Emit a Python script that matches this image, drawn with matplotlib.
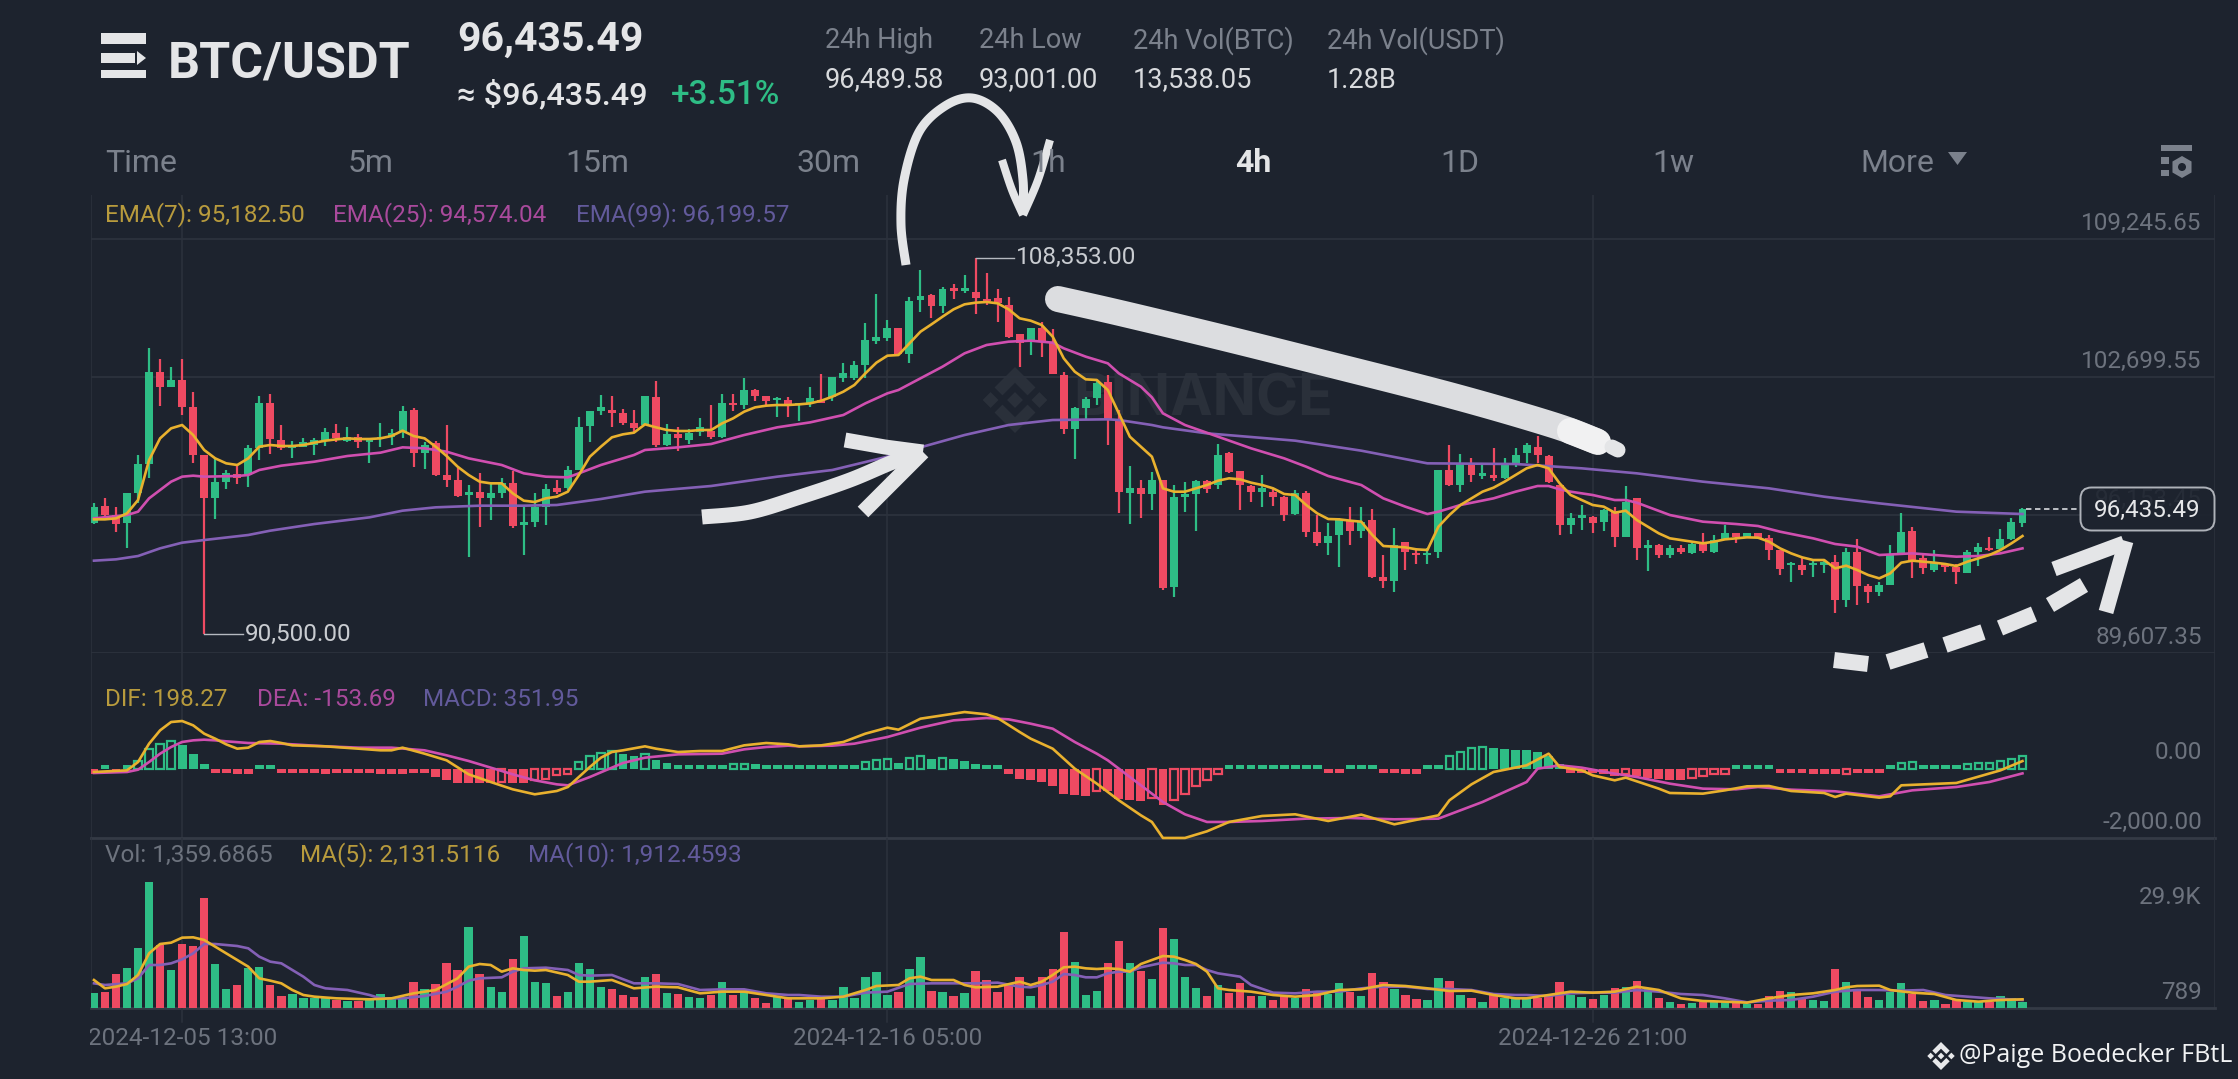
import numpy as np
import matplotlib
matplotlib.use("Agg")
import matplotlib.pyplot as plt
from matplotlib.patches import Polygon, Rectangle, FancyBboxPatch, RegularPolygon, Circle
from matplotlib.transforms import ScaledTranslation, Bbox

plt.rcParams['font.family'] = ['Roboto', 'DejaVu Sans']

# ---------- data ----------
open_ = [95763,96585,96158,95763,97215,98574,102947,102237,102553,101290,
99000,96950,97737,98100,98053,99316,101447,99710,99316,99395,
99474,99710,100058,99679,99868,99600,99742,99868,100105,101132,
99079,99553,98053,97816,97105,97263,96950,97215,97690,95684,
95842,96553,97421,97421,98290,100374,101100,101132,101005,100500,
100421,101763,99474,99979,99710,100105,100153,99837,101479,101369,
102079,101795,101605,101605,101369,101447,101605,101732,102632,102663,
103263,104416,104558,105000,103785,106342,106579,106058,106895,106784,
106737,106374,106421,106105,104732,104447,105000,104369,102790,100216,
101210,101684,102474,100658,97215,97421,97153,97816,92731,97026,
97153,97784,97579,99079,98258,97532,97263,97263,96995,96205,
97184,95368,94847,95210,95921,95416,95921,93237,93047,94895,
94374,94263,94421,98290,97579,98605,98005,98053,97895,98527,
99079,99395,98968,97579,95684,96000,96079,95842,96363,95100,
96950,94579,94737,94263,94579,94374,94816,94421,95006,95289,
95131,95289,95053,94500,93790,93790,93790,93790,93947,92132,
94421,92811,92495,92842,94263,95416,94105,93553,93837,93679,
93426,94421,94579,94532,95005,95795]
high = [96710,96950,96553,97215,99000,104053,103532,103153,103532,102000,
99000,98795,98290,98527,99474,101811,101890,100421,99679,99821,
99789,100263,100453,100311,99995,99789,100500,100216,101337,101210,
99632,99679,100421,98369,97579,98132,97658,97895,98258,96521,
97184,97627,97816,98479,100784,101100,101842,101811,101163,101132,
101795,102521,100453,100342,100216,100768,101369,101890,101890,102632,
102142,101795,101732,101732,101447,102205,102837,102679,103342,103453,
105237,106627,105395,105000,106469,107763,106627,106974,107100,107526,
108353,107605,106879,106500,104732,105000,105316,104953,102947,101290,
101763,102521,102790,101132,98479,97816,98211,97816,97579,97737,
97816,97816,99521,99158,98258,97579,98053,97421,97058,97342,
97310,96158,95795,95999,96521,96553,96426,94263,95526,94895,
94579,94579,98290,99474,99047,98874,98605,99316,98842,99316,
99553,99900,99000,97579,96268,96632,96110,96426,96553,97532,
96950,94974,94784,94737,94737,94816,95321,95211,95684,95321,
95321,95321,95211,94500,93947,94184,93995,94058,94263,94579,
95021,92889,92995,94737,96237,95574,94263,94500,93868,93837,
94500,94816,95131,95479,95999,96473]
low = [95715,96000,95337,94579,96710,97895,101321,102237,100895,98605,
90500,95968,97374,97627,97500,98763,99047,99237,98842,99363,
99000,99426,99632,99632,99316,98637,99363,99474,99789,98416,
98321,98005,97500,96995,94184,95574,95921,96950,95526,94263,
95605,95684,97153,97342,98290,99600,100895,100311,100421,100105,
100421,99363,99426,99205,99521,99900,99742,99789,101100,101163,
101574,101369,100816,100816,100626,101258,101447,101574,102474,102553,
102632,104242,104416,103737,103342,105790,105474,105742,106374,106658,
105679,106105,105316,104526,103153,103737,103658,102821,99979,98795,
100690,101369,99474,96237,95715,96000,96395,92605,92258,96316,
95416,97215,97374,98163,96395,96790,96553,96585,95890,96158,
95131,94690,94263,93710,94737,95053,93158,92684,92526,93553,
93837,93837,94105,97547,97263,97737,97847,97784,97847,98447,
98605,98605,97658,95210,95258,95447,95321,95416,94626,95100,
94026,93505,94105,94137,94295,94310,94374,94374,94974,94816,
95053,95006,94026,93316,93000,93316,93237,93426,91500,91816,
91895,92005,92321,92842,94263,93158,93363,93474,93474,92889,
93395,93742,94468,94468,94974,95605]
close = [96553,96158,95730,97215,98574,102947,102237,102553,101290,99000,
96950,97737,98132,97895,99316,101447,99742,99316,99474,99632,
99710,100074,99789,99868,99632,99710,99837,100058,101085,99079,
99474,98053,97816,97058,97263,96950,97184,97658,95637,95842,
96553,97374,97263,98290,100342,101100,101258,101005,100532,100263,
101795,99474,99979,99789,100058,100311,99837,101447,101369,102079,
101795,101574,101684,101369,101447,101684,101447,102679,102868,103263,
104447,104574,105000,103785,106311,106532,106058,106848,106784,106895,
106421,106311,106185,104605,104290,105000,104369,102821,100216,101210,
101653,102395,100658,97263,97421,97153,97816,92684,96995,97153,
97784,97374,99000,98211,97579,97263,97421,96995,96158,97184,
95368,94816,95163,95921,95416,95842,93237,93047,94737,94421,
94263,94374,98290,97579,98605,98053,98132,97895,98527,99000,
99474,99000,97737,95684,96000,96158,95795,96395,95131,96790,
94579,94737,94263,94579,94389,94784,94453,94974,95289,95131,
95289,95053,94500,93584,93868,93553,93868,93916,92132,94421,
92811,92495,92842,94263,95368,94026,93632,93868,93710,93474,
94421,94658,94500,95005,95842,96435.49]
ema7 = [95952,95952,95999,96237,96868,98763,99789,100263,100421,99947,99237,98842,98605,98527,98842,99395,99474,99426,99426,99474,
99584,99679,99742,99789,99758,99758,99789,99900,100153,99900,99789,99395,98953,98447,98053,97737,97658,97658,97184,96837,
96774,96947,97026,97263,98053,98921,99395,99837,99979,100058,100453,100311,100184,100137,100137,100184,100184,100500,100737,101053,
101258,101337,101369,101369,101400,101447,101574,101763,102000,102316,102868,103374,103705,103737,104290,104842,105190,105553,105900,106137,
106216,106248,106185,105900,105474,105363,105158,104605,103579,102947,102584,102553,102079,100974,99868,99395,98921,97421,97263,97263,
97421,97579,97784,97895,97847,97690,97579,97421,97153,97105,96632,96237,95968,95952,95889,95842,95211,94690,94658,94626,
94531,94500,95605,96158,96632,96947,97263,97453,97737,98053,98369,98527,98369,97658,97105,96868,96632,96553,96268,96363,
95921,95605,95289,95053,94974,94895,94816,94895,95005,95053,95100,95084,94895,94579,94342,94153,94026,94026,93631,93758,
93553,93316,93158,93395,93900,93995,93947,93900,93837,93742,93947,94105,94263,94500,94816,95163]
ema25_idx = [0,3,4,5,6,7,8,9,10,13,14,15,17,20,23,26,28,30,32,34,37,39,41,43,44,46,49,50,53,56,59,62,65,68,70,72,73,75,77,79,81,83,85,87,88,90,92,93,95,96,97,99,102,105,108,110,112,115,117,119,121,122,124,127,129,131,132,133,134,136,138,139,140,143,146,149,151,153,156,158,160,162,165,167,169,171,173,175]
ema25 = [96000,96158,96316,96947,97342,97737,97974,98021,97974,98005,98053,98290,98495,98684,98953,99111,99363,99316,99158,98842,98527,98132,97974,97942,98132,98527,99000,99237,99363,99521,99947,100311,100547,100895,101447,101921,102079,102632,103184,103816,104211,104369,104416,104321,104053,103658,103342,102868,102237,101732,100974,100421,99868,99316,98842,98447,98005,97579,96947,96553,96205,96316,96632,96947,97263,97532,97532,97374,97263,97105,96868,96868,96742,96158,95842,95731,95637,95368,95053,94784,94658,94263,94342,94263,94184,94216,94342,94579]
ema99_idx = [0,2,4,6,8,10,14,16,20,25,28,31,35,39,42,46,50,56,62,67,72,75,79,83,87,92,93,96,97,101,109,115,121,129,135,140,146,152,157,162,169,175]
ema99 = [93995,94058,94215,94579,94847,94973,95211,95416,95731,96047,96363,96521,96600,96600,96632,96916,97263,97532,97974,98290,98921,99363,99947,100421,100658,100690,100658,100421,100311,100026,99679,99205,98605,98574,98369,98132,97737,97421,97026,96710,96316,96205]

hist = [-160,76,-40,76,200,533,676,762,648,410,105,-65,-65,-180,-180,76,30,-65,-65,-65,
-65,-160,-65,-65,-65,-65,-160,-160,-160,-65,-65,-257,-333,-430,-430,-430,-430,-400,-430,-430,
-352,-305,-210,-160,170,343,438,476,410,343,390,219,152,57,48,48,48,76,105,124,
124,76,48,48,48,48,48,76,76,95,171,219,257,143,295,333,267,295,248,190,
114,48,38,-181,-305,-352,-400,-524,-752,-781,-809,-657,-657,-876,-923,-942,-857,-1066,-905,-733,
-524,-352,-181,76,76,76,76,76,76,48,76,30,-86,-86,76,76,76,-86,-143,-162,
-162,76,76,333,457,581,600,562,543,524,524,457,333,124,-114,-114,-133,-181,-238,-181,
-238,-276,-305,-333,-333,-276,-228,-181,-162,76,76,76,30,-86,-86,-86,-162,-162,-181,-162,
-86,-95,-143,76,152,162,95,95,86,48,124,133,143,200,257,351.95]
dif_idx = [0,3,4,5,6,7,8,9,10,11,12,13,14,15,16,17,18,21,24,26,27,28,30,32,34,36,38,40,42,43,45,46,47,48,50,51,53,55,57,59,61,63,64,66,68,70,72,73,75,77,79,81,82,84,85,87,89,91,93,95,96,97,99,101,103,106,109,112,115,118,122,123,125,127,130,132,133,135,136,138,139,142,143,146,148,150,152,154,157,158,159,162,163,164,169,173,175]
dif = [-114,-67,171,695,1076,1314,1342,1219,981,838,676,552,581,743,771,714,647,619,552,505,505,581,409,219,-181,-400,-609,-752,-657,-543,29,295,457,505,619,552,457,486,486,647,714,676,619,647,743,981,1152,1095,1409,1504,1599,1533,1428,1028,838,552,-19,-447,-923,-1352,-1542,-1999,-1999,-1809,-1542,-1371,-1323,-1514,-1333,-1609,-1352,-923,-467,-114,76,409,29,-67,-209,-352,-276,-590,-714,-733,-638,-524,-514,-657,-714,-828,-733,-847,-809,-495,-428,-67,198.27]
dea_idx = [0,3,4,5,6,7,8,9,10,11,12,14,17,21,24,27,30,32,34,36,38,40,42,43,45,47,48,50,53,57,59,61,63,64,67,69,72,75,78,81,83,85,87,89,91,92,93,95,97,99,101,103,106,110,114,118,122,124,126,128,130,131,133,135,138,140,143,146,149,151,154,158,162,165,169,172,175]
dea = [-143,-114,-48,171,409,600,743,790,809,790,762,714,695,619,581,581,505,362,200,10,-181,-352,-467,-495,-257,10,143,295,390,409,533,600,638,619,638,695,885,1152,1361,1428,1390,1266,1123,743,409,219,-19,-495,-971,-1323,-1542,-1542,-1514,-1447,-1428,-1466,-1447,-1209,-971,-685,-400,-19,76,10,-162,-257,-447,-590,-609,-543,-619,-666,-809,-638,-543,-400,-153.69]

volume = [5481,5787,11193,12927,19047,39243,20067,12417,20373,19761,34347,14253,6603,7827,12927,13233,7827,4461,4971,3747,
3849,3747,3237,3033,2931,3747,5073,4053,3747,8643,6603,8133,14457,12417,25473,11193,7113,5787,15783,22923,
8847,8541,4563,5787,14457,12621,7317,6603,4767,4257,10377,11091,5481,5073,4257,3747,4767,8643,4767,5787,
3747,2421,4257,3747,2727,3237,3747,3237,7113,3747,10173,11907,4767,5787,12621,16293,6093,5787,4461,5481,
12213,9357,5787,7827,10173,4461,10173,12621,23943,14967,4767,6093,14457,21189,14457,12111,9663,25269,21801,10173,
6909,4461,7827,5277,8337,4563,4461,3237,4461,3747,6501,5277,5073,8541,5787,4563,11397,8847,6603,4767,
3441,3237,9867,9153,4767,3747,2523,4767,3747,3747,3747,3747,4461,8643,4767,4257,3543,4767,6807,7113,
9153,6501,3747,2523,2013,2217,2727,2523,2523,2421,1911,1911,4461,5991,5787,3747,3237,2931,12723,8643,
6093,4257,3237,5787,8337,5073,3033,3237,2013,3237,2727,2727,2727,4563,3747,2523]
ma5_idx = [0,1,2,3,4,5,6,7,8,9,10,11,12,13,14,15,16,17,18,19,20,22,25,27,29,31,33,34,35,36,37,38,39,40,41,43,44,45,47,49,51,53,55,57,59,61,63,64,66,68,70,71,73,74,75,76,78,79,80,82,84,85,86,87,88,89,90,91,92,93,94,95,96,97,98,99,100,101,102,103,105,107,109,111,113,115,117,119,121,123,125,127,129,130,132,134,136,138,140,142,144,146,148,150,152,154,156,158,159,160,162,163,165,167,169,171,173,175]
ma5 = [9357,6807,7317,8133,10887,17517,20373,20781,22311,22413,21597,19557,17517,15477,13437,9867,9153,8337,6297,4767,4257,3747,3441,3747,5277,6297,9867,13437,14253,13947,11907,12927,12417,12213,12417,10887,8847,8847,9357,6807,7317,7113,5277,5787,5787,4767,3747,3747,3747,4257,6297,7521,7827,9867,10377,9357,9357,7827,7113,7317,8847,7827,8847,10887,13233,13437,12927,12723,12927,12723,11907,14253,15477,16701,16497,15477,14253,11907,6807,6297,5787,4767,4257,4767,6297,6501,7827,7521,6807,5991,6093,4767,3747,3747,4767,5787,5481,5787,7317,6297,3747,2931,2727,2421,3747,4767,5277,6297,7113,7521,7623,6297,5481,5073,3237,2727,3237,3441]
ma10_idx = [0,1,3,4,5,6,7,8,9,10,11,13,14,15,16,17,18,19,20,21,23,25,26,28,30,32,33,34,35,37,38,39,41,43,44,45,47,49,51,53,55,57,59,61,63,64,66,68,70,72,74,76,78,80,82,84,85,86,87,88,89,90,91,92,93,94,95,96,97,98,99,100,101,102,103,104,105,107,109,111,113,115,117,119,121,123,125,127,129,130,132,134,136,138,140,142,144,146,148,150,152,154,156,158,160,162,164,166,168,170,172,175]
ma10 = [8337,7827,8337,9867,13947,13947,14457,15681,17517,20373,20373,19761,19047,16497,14967,14457,12417,10377,7827,6807,6297,4767,3747,3747,4461,5787,7317,9153,9867,10173,11907,12927,13131,12417,10887,10683,10887,8337,8337,8133,6297,6501,6501,5277,4767,4767,4257,4257,5481,5787,8133,8337,8337,8337,8541,7317,7113,7827,8847,11193,10887,10173,10173,11397,11907,11907,13233,13947,14661,14457,13947,13947,12417,11397,10887,10377,7827,5481,5277,5787,5787,6807,7317,7317,6603,6603,6297,5073,4767,4767,4461,5277,5481,5481,6297,5787,5073,4767,3747,2523,3033,3237,4257,5787,6297,6297,6093,6297,4767,4257,3747,3237]

price_ticks = [109245.65, 102699.55, 96153.45, 89607.35]
price_tick_labels = ['109,245.65', '102,699.55', '96,153.45', '89,607.35']
macd_ticks = [0, -2000]
macd_tick_labels = ['0.00', '-2,000.00']
vol_ticks = [29900, 789]
vol_tick_labels = ['29.9K', '789']
grid_idx = [8, 72, 136]
date_labels = ['2024-12-05 13:00', '2024-12-16 05:00', '2024-12-26 21:00']
tabs = ['Time', '5m', '15m', '30m', '1h', '4h', '1D', '1w', 'More']

# ---------- styles ----------
W, H = 2238, 1079
BG = '#1d232e'
GRID = '#2c323d'
SEP = '#343a45'
GREEN = '#2ebd85'
RED = '#ee4a62'
YEL = '#e9b12e'
MAG = '#d04fb0'
PUR = '#8460b6'
AXTXT = '#6d737e'
TABTXT = '#7b818c'
INK = '#e4e5e7'
XMIN, XMAX = -0.27, 192.47
FS = 17.5

fig = plt.figure(figsize=(W / 100, H / 100), dpi=100, facecolor=BG)

def axpx(x0, y0, x1, y1, z):
    a = fig.add_axes([x0 / W, 1 - y1 / H, (x1 - x0) / W, (y1 - y0) / H], zorder=z)
    a.patch.set_alpha(0)
    return a

back = axpx(0, 0, W, H, 0)
front = axpx(0, 0, W, H, 5)
for a in (back, front):
    a.set_xlim(0, W); a.set_ylim(H, 0); a.axis('off')

ax_p = axpx(91, 195, 2215, 653.3, 1)
ax_m = axpx(91, 653.3, 2215, 838, 1)
ax_v = axpx(91, 838, 2215, 1008, 1)
ax_p.set_ylim(89607.35, 111316)
ax_m.set_ylim(-2000, 3277)
ax_v.set_ylim(789, 52809)

for a in (ax_p, ax_m, ax_v):
    a.set_xlim(XMIN, XMAX)
    for s in a.spines.values():
        s.set_visible(False)
    a.set_axisbelow(True)
    for gx in grid_idx + [XMIN, XMAX]:
        a.axvline(gx, color=GRID, lw=1.1, zorder=0)
    a.yaxis.tick_right()
    a.tick_params(axis='y', length=0, pad=-9.5, labelcolor=AXTXT, labelsize=FS)
    a.tick_params(axis='x', length=0)
    a.set_xticks([])

def set_yticks(a, ticks, labels):
    a.set_yticks(ticks, labels=labels)
    for lab in a.get_yticklabels():
        lab.set_ha('right')
        lab.set_va('bottom')
        lab.set_transform(lab.get_transform() + ScaledTranslation(0, 2.8 / 72, fig.dpi_scale_trans))

set_yticks(ax_p, price_ticks, price_tick_labels)
set_yticks(ax_m, macd_ticks, macd_tick_labels)
set_yticks(ax_v, vol_ticks, vol_tick_labels)
for v in price_ticks:
    ax_p.axhline(v, color=GRID, lw=1.3, zorder=0)
ax_m.axhline(-2000, color=SEP, lw=2, zorder=0, clip_on=False)
ax_v.axhline(789, color=SEP, lw=2, zorder=0, clip_on=False)

ax_v.set_xticks(grid_idx, labels=date_labels)
ax_v.tick_params(axis='x', pad=14, labelcolor=AXTXT, labelsize=FS)
ax_v.get_xticklabels()[0].set_clip_on(True)
ax_v.get_xticklabels()[0].set_clip_box(Bbox([[90, 0], [400, 200]]))
for gx in grid_idx:
    ax_v.plot([gx, gx], [0, -0.08], color=GRID, lw=1.1, transform=ax_v.get_xaxis_transform(), clip_on=False)

# ---------- candles ----------
idx = np.arange(len(close))
o, h, l, c = map(np.array, (open_, high, low, close))
up = c >= o
cols = np.where(up, GREEN, RED)
ax_p.vlines(idx, l, h, colors=cols, lw=1.6, zorder=2)
ax_p.bar(idx, np.maximum(np.abs(c - o), 60), bottom=np.minimum(o, c), width=0.72, color=cols, zorder=2, linewidth=0)
ax_p.plot(ema99_idx, ema99, color=PUR, lw=1.9, zorder=3)
ax_p.plot(ema25_idx, ema25, color=MAG, lw=1.9, zorder=4)
ax_p.plot(idx, ema7, color=YEL, lw=1.9, zorder=5)

# high / low markers
ax_p.plot([80, 83.5], [108353, 108353], color='#b5b9c0', lw=1, zorder=6)
ax_p.text(83.7, 108353, '108,353.00', color='#c9ccd1', fontsize=FS, va='center', ha='left')
ax_p.plot([10, 13.5], [90500, 90500], color='#b5b9c0', lw=1, zorder=6)
ax_p.text(13.7, 90500, '90,500.00', color='#c9ccd1', fontsize=FS, va='center', ha='left')

# last price
ax_p.plot([175.3, 180], [96435.49, 96435.49], color='#c9ccd1', lw=1.3, ls=(0, (3, 2)), zorder=6)

# ---------- MACD ----------
ZERO = -38
MINH = 115
hist_a = np.array(hist, dtype=float)
rising = np.r_[False, hist_a[1:] > hist_a[:-1]]
hcols = np.where(hist_a >= 0, GREEN, RED)
for i, v in enumerate(hist_a):
    height = max(v - ZERO, MINH) if v >= 0 else min(v - ZERO, -MINH)
    if rising[i] and abs(v) > 100:
        ax_m.bar(i, height, bottom=ZERO, width=0.66, facecolor='none', edgecolor=hcols[i], linewidth=1.6, zorder=2)
    else:
        ax_m.bar(i, height, bottom=ZERO, width=0.8, color=hcols[i], linewidth=0, zorder=2)
ax_m.plot(dea_idx, dea, color=MAG, lw=1.9, zorder=3, clip_on=False)
ax_m.plot(dif_idx, dif, color=YEL, lw=1.9, zorder=4, clip_on=False)

# ---------- volume ----------
ax_v.bar(idx, np.array(volume) - 789, bottom=789, width=0.76, color=cols, linewidth=0, zorder=2)
ax_v.plot(ma10_idx, ma10, color=PUR, lw=1.9, zorder=3)
ax_v.plot(ma5_idx, ma5, color=YEL, lw=1.9, zorder=4)

# ---------- text / chrome ----------
def t(x, y, s, col, size, weight='normal', ha='left', ax=front, **kw):
    return ax.text(x, y + 3, s, color=col, fontsize=size, fontweight=weight, ha=ha, va='center', **kw)

def rect(x0, y0, x1, y1, col, ax=front):
    ax.add_patch(Rectangle((x0, y0), x1 - x0, y1 - y0, facecolor=col, edgecolor='none'))

# header icon
rect(101, 33, 146, 44, INK)
rect(101, 53, 135, 63, INK)
front.add_patch(Polygon([[137, 51], [146, 58], [137, 65]], facecolor=INK))
rect(101, 70, 146, 78, INK)
t(168, 60.5, 'BTC/USDT', INK, 36.2, 'bold')
t(457, 37, '96,435.49', INK, 29.5, 'bold')
t(457, 92, '≈ $96,435.49', INK, 23.4, 'medium')
t(671, 92, '+3.51%', GREEN, 24, 'medium')
cols_x = [825, 979, 1133, 1327]
stat_names = ['24h High', '24h Low', '24h Vol(BTC)', '24h Vol(USDT)']
stat_vals = ['96,489.58', '93,001.00', '13,538.05', '1.28B']
for xx, nm, vv in zip(cols_x, stat_names, stat_vals):
    t(xx, 38, nm, TABTXT, 19.5)
    t(xx, 77, vv, '#d8dadd', 19.5)

tab_x = [105, 348, 565, 797, 1030, 1235, 1440, 1652, 1860]
for xx, s in zip(tab_x, tabs):
    if s == '4h':
        t(xx, 160.5, s, INK, 23, 'bold')
    else:
        t(xx, 160.5, s, TABTXT, 23)
front.add_patch(Polygon([[1948, 152], [1967, 152], [1957.5, 165]], facecolor=TABTXT))

# settings icon
rect(2161, 145, 2192, 151, TABTXT)
rect(2161, 157, 2169, 164, TABTXT)
rect(2161, 170, 2169, 176, TABTXT)
front.add_patch(RegularPolygon((2182, 167), 6, radius=11, facecolor=TABTXT, edgecolor='none'))
front.add_patch(Circle((2182, 167), 4, facecolor=BG, edgecolor='none'))

# legends
t(105, 212, 'EMA(7): 95,182.50', '#b89b3d', FS)
t(333, 212, 'EMA(25): 94,574.04', '#a94a9c', FS)
t(576, 212, 'EMA(99): 96,199.57', '#625a9b', FS)
t(105, 696, 'DIF: 198.27', '#b89b3d', FS)
t(257, 696, 'DEA: -153.69', '#a94a9c', FS)
t(423, 696, 'MACD: 351.95', '#625a9b', FS)
t(105, 852, 'Vol: 1,359.6865', '#6d737e', FS)
t(300, 852, 'MA(5): 2,131.5116', '#b89b3d', FS)
t(528, 852, 'MA(10): 1,912.4593', '#625a9b', FS)

# watermark
def logo(ax, cx, cy, r, col):
    def diamond(x, y, s):
        ax.add_patch(Polygon([[x, y - s], [x + s, y], [x, y + s], [x - s, y]], facecolor=col, edgecolor='none'))
    diamond(cx, cy, 0.24 * r)
    diamond(cx - 0.74 * r, cy, 0.24 * r)
    diamond(cx + 0.74 * r, cy, 0.24 * r)
    for sgn in (-1, 1):
        ax.add_patch(Polygon([[cx, cy + sgn * r], [cx + 0.62 * r, cy + sgn * 0.38 * r], [cx + 0.38 * r, cy + sgn * 0.14 * r],
                              [cx, cy + sgn * 0.52 * r], [cx - 0.38 * r, cy + sgn * 0.14 * r], [cx - 0.62 * r, cy + sgn * 0.38 * r]],
                             facecolor=col, edgecolor='none'))
WM = '#2a303a'
logo(back, 1015, 400, 33, WM)
back.text(1073, 401, 'BINANCE', color=WM, fontsize=41, fontweight='bold', family='Inter', va='center', ha='left')

# footer
logo(front, 1941, 1056, 14, '#e8e9eb')
front.text(1959, 1055, '@Paige Boedecker FBtL', color='#f2f3f4', fontsize=18, family='Open Sans', va='center', ha='left')

# price tag
front.add_patch(FancyBboxPatch((2087, 494), 121, 30, boxstyle='round,pad=6.5,rounding_size=11', facecolor=(0.114, 0.137, 0.18, 0.88),
                               edgecolor='#aeb2b9', linewidth=1.4))
t(2147, 507, '96,435.49', '#e6e7e9', 17.5, ha='center')

# ---------- handwritten strokes ----------
def smooth(pts, n=14):
    p = np.array(pts, float)
    p = np.vstack([p[0], p, p[-1]])
    out = []
    for i in range(1, len(p) - 2):
        for u in np.linspace(0, 1, n, endpoint=False):
            out.append(0.5 * ((2 * p[i]) + (-p[i - 1] + p[i + 1]) * u +
                              (2 * p[i - 1] - 5 * p[i] + 4 * p[i + 1] - p[i + 2]) * u ** 2 +
                              (-p[i - 1] + 3 * p[i] - 3 * p[i + 1] + p[i + 2]) * u ** 3))
    out.append(p[-2])
    return np.array(out)

def stroke(pts, px, col=INK, cap='butt', curve=True):
    q = smooth(pts) if curve else np.array(pts, float)
    front.plot(q[:, 0], q[:, 1], color=col, lw=px * 0.72, solid_capstyle=cap, solid_joinstyle='round')

# curved arrow on top
stroke([(906, 265), (901, 225), (904, 180), (919, 132), (945, 106), (972, 98), (998, 112), (1016, 142), (1023, 180), (1023, 214)], 9)
stroke([(1002, 160), (1012, 190), (1023, 215)], 8)
stroke([(1050, 140), (1038, 180), (1023, 215)], 8)

# long thick down line
stroke([(1058, 299), (1120, 313), (1220, 337), (1320, 362), (1453, 396), (1553, 425), (1596, 441)], 26, col='#dcdde0', cap='round')
stroke([(1570, 431), (1598, 442)], 26, col='#f1f1f2', cap='round')
stroke([(1612, 447), (1618, 450)], 15, col='#e4e5e7', cap='round')

# arrow pointing to EMA99
stroke([(702, 517), (750, 512), (800, 497), (850, 480), (893, 462), (923, 452)], 15)
stroke([(845, 440), (885, 447), (923, 452)], 15, curve=False)
stroke([(863, 512), (895, 480), (923, 452)], 15, curve=False)

# dashed arrow, bottom right
dashes = [[(1834, 660), (1868, 664)], [(1888, 662), (1926, 650)], [(1945, 645), (1983, 632)],
          [(2000, 628), (2034, 614)], [(2050, 605), (2084, 585)]]
for d in dashes:
    stroke(d, 16, curve=False)
stroke([(2054, 569), (2124, 543)], 15, curve=False)
stroke([(2126, 541), (2106, 612)], 15, curve=False)

fig.savefig('out.png', dpi=100, facecolor=BG)
